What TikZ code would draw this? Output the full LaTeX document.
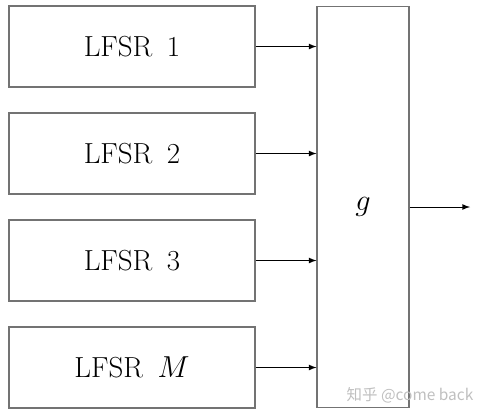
\documentclass[tikz,border=0pt]{standalone}
\usepackage{fontspec}
\newfontfamily\cjk{Noto Sans CJK SC}
\usepackage{tikz}
\usetikzlibrary{arrows}

\tikzset{
    lfsrbox/.style={draw=black!55, line width=0.6pt, minimum width=4.92cm, minimum height=1.62cm, inner sep=0pt, font=\fontsize{16.5}{19}\selectfont},
    feed/.style={-latex, black, line width=0.5pt}
}

\begin{document}
\begin{tikzpicture}[x=0.02cm, y=0.02cm]
        \useasboundingbox (0,0) rectangle (481,417);
        % registers on the left
        \node[lfsrbox] (lfsr1) at (132,370.5) {LFSR\enspace 1};
        \node[lfsrbox] (lfsr2) at (132,263.5) {LFSR\enspace 2};
        \node[lfsrbox] (lfsr3) at (132,156.5) {LFSR\enspace 3};
        \node[lfsrbox] (lfsrM) at (132,49.5) {LFSR\enspace $M$};
        % combining function
        \node[lfsrbox, minimum width=1.84cm, minimum height=8.04cm] (g) at (363,210) {$g$};
        \foreach \r in {lfsr1,lfsr2,lfsr3,lfsrM} {
            \draw[feed] (\r.east) -- (\r.east -| g.west);
        }
        \coordinate (out) at (470,210);
        \draw[feed] (g.east) -- (out);
        \node[text=black!25, font=\cjk\fontsize{8.8}{10}\selectfont] (mark) at (410,22) {知乎 @come back};
\end{tikzpicture}
\end{document}
